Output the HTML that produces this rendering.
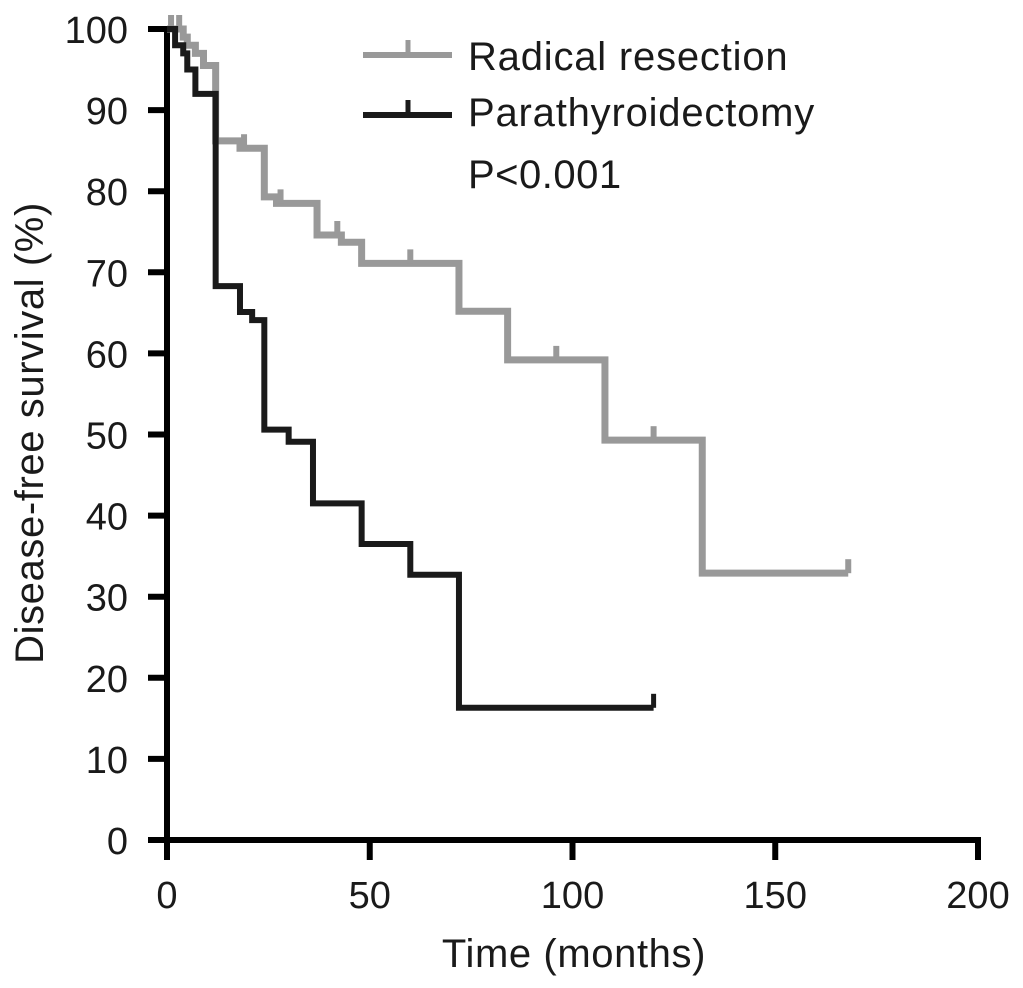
<!DOCTYPE html>
<html><head><meta charset="utf-8"><style>
body{margin:0;background:#fff}
svg{display:block;font-family:"Liberation Sans",Arial,sans-serif}
</style></head><body>
<svg id="chart" width="1023" height="988">
<g id="axes"></g>
<g id="series"></g>
<g>
<g>
<line x1="363" y1="55" x2="452" y2="55" stroke="#999" stroke-width="6"/>
<line x1="408" y1="55" x2="408" y2="40" stroke="#999" stroke-width="5"/>
<text x="468" y="70" font-size="40" letter-spacing="0.8" fill="#1a1a1a">Radical resection</text></g>
<g>
<line x1="363" y1="115" x2="452" y2="115" stroke="#1a1a1a" stroke-width="6"/>
<line x1="408" y1="115" x2="408" y2="100" stroke="#1a1a1a" stroke-width="5"/>
<text x="468" y="126" font-size="40" letter-spacing="0.8" fill="#1a1a1a">Parathyroidectomy</text></g>
<text x="468" y="188" font-size="40" letter-spacing="0.5" fill="#1a1a1a">P&lt;0.001</text>
</g>
<text x="574" y="967" font-size="40" letter-spacing="0.6" fill="#1a1a1a" text-anchor="middle">Time (months)</text>
<text transform="translate(43,433) rotate(-90)" font-size="40" letter-spacing="0.6" fill="#1a1a1a" text-anchor="middle">Disease-free survival (%)</text>
</svg>
<script>
const xTicks=[0,50,100,150,200];
const yTicks=[0,10,20,30,40,50,60,70,80,90,100];
const radicalTimes=[0,4,5,7,9,12,18,24,27,37,43,48,72,84,108,132,168];
const radicalSurv=[100,99,98,97,95.5,86.2,85.3,79.3,78.5,74.6,73.7,71.1,65.2,59.2,49.3,32.9,32.9];
const radicalCensor=[1,3,19,28,42,60,96,120,168];
const paraTimes=[0,2,4,5,7,12,18,21,24,30,36,48,60,72,120];
const paraSurv=[100,98,97,95,92,68.3,65.1,64.1,50.6,49.1,41.5,36.5,32.7,16.3,16.3];
const paraCensor=[120];
const X=t=>167+t*4.055, Y=s=>840-s*8.11;
const NS="http://www.w3.org/2000/svg";
function mk(tag,attrs,parent){const e=document.createElementNS(NS,tag);for(const k in attrs)e.setAttribute(k,attrs[k]);parent.appendChild(e);return e;}
const axes=document.getElementById('axes'), ser=document.getElementById('series');
let a=mk('line',{x1:X(0),y1:Y(100)-3,x2:X(0),y2:Y(0)+3,stroke:'#000','stroke-width':6},axes);


a=mk('line',{x1:X(0)-3,y1:Y(0),x2:X(200)+3,y2:Y(0),stroke:'#000','stroke-width':6},axes);


yTicks.forEach(v=>{
 const l=mk('line',{x1:X(0)-19,y1:Y(v),x2:X(0),y2:Y(v),stroke:'#000','stroke-width':6},axes);
 
 
 const t=mk('text',{x:128,y:Y(v)+14,'font-size':38,'text-anchor':'end',fill:'#1a1a1a'},axes);t.textContent=v;
 
 
});
xTicks.forEach(v=>{
 const l=mk('line',{x1:X(v),y1:Y(0),x2:X(v),y2:Y(0)+20,stroke:'#000','stroke-width':6},axes);
 
 
 const t=mk('text',{x:X(v),y:908,'font-size':38,'text-anchor':'middle',fill:'#1a1a1a'},axes);t.textContent=v;
 
 
});
function surv(times,s,t){let v=s[0];for(let i=0;i<times.length;i++){if(times[i]<=t)v=s[i];}return v;}
function draw(times,s,cens,color,w,name){
 let d='M'+X(times[0])+','+Y(s[0]);
 for(let i=1;i<times.length;i++){d+=' H'+X(times[i])+' V'+Y(s[i]);}
 const p=mk('path',{d:d,fill:'none',stroke:color,'stroke-width':w,'stroke-linejoin':'miter'},ser);
 
 
 cens.forEach(c=>{const v=surv(times,s,c);
  const l=mk('line',{x1:X(c),y1:Y(v),x2:X(c),y2:Y(v)-14,stroke:color,'stroke-width':w-1},ser);
  
  });
}
draw(radicalTimes,radicalSurv,radicalCensor,'#999',7,'radical');
draw(paraTimes,paraSurv,paraCensor,'#1a1a1a',6,'parathyroidectomy');
</script>
</body></html>
